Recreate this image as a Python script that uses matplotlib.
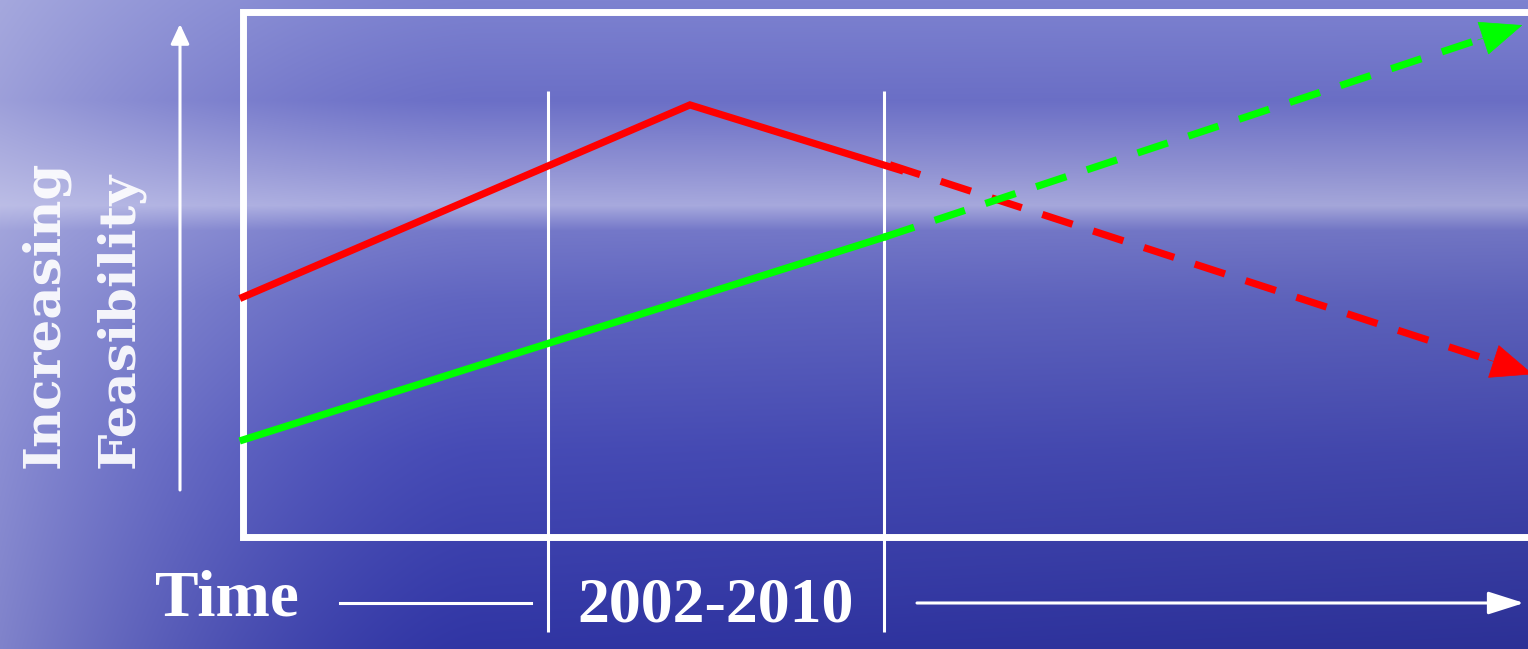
"""Feasibility over time: sketch chart on a sea-and-sky backdrop."""
import matplotlib
matplotlib.use("Agg")
import matplotlib.pyplot as plt
import numpy as np
from matplotlib.patches import FancyArrowPatch

W, H = 1528, 649

# data (time in years, feasibility in arbitrary units 0..100)
period = [2002, 2010]
period_label = "2002-2010"
red_years = [1994.74, 2005.38, 2010.38]
red_vals = [45.7, 82.3, 69.9]
red_proj_years = [2010.14, 2025.45]
red_proj_vals = [70.9, 31.0]
green_years = [1994.74, 2010.0]
green_vals = [18.5, 57.1]
green_proj_years = [2010.0, 2025.2]
green_proj_vals = [57.1, 97.5]

RED = "#ff0000"
GREEN = "#00ff00"


def px(x, y):
    """Figure fraction from pixel position (top-left origin)."""
    return x / W, 1 - y / H


def backdrop():
    yy = np.arange(H)
    stops_y = [0, 100, 170, 205, 230, 300, 450, 649]
    cols = np.array([
        [125, 130, 208], [108, 112, 200], [148, 150, 215], [170, 172, 225],
        [118, 122, 204], [98, 103, 196], [72, 77, 186], [50, 55, 170],
    ]) / 255.0
    col = np.stack([np.interp(yy, stops_y, cols[:, k]) for k in range(3)], axis=1)
    img = np.repeat(col[:, None, :], W, axis=1)
    xx = np.arange(W)
    light = np.clip(1 - xx / 480.0, 0, 1) ** 1.6 * 0.5
    lav = np.array([205, 206, 235]) / 255.0
    img = img * (1 - light[None, :, None]) + lav * light[None, :, None]
    dark = (xx / W)[None, :, None] * (yy / H)[:, None, None] * 0.12
    img = img * (1 - dark)
    return img


fig = plt.figure(figsize=(W / 100, H / 100), dpi=100)
bg = fig.add_axes([0, 0, 1, 1])
bg.imshow(backdrop(), aspect="auto", extent=(0, 1, 0, 1), zorder=0)
bg.set_axis_off()

ax = fig.add_axes([0, 0, 1, 1])
ax.set_axis_off()
ax.patch.set_alpha(0)
ax.set_xlim(2002 - 548 / 42, 2002 + (W - 548) / 42)
ax.set_ylim((537 - H) / 5.25, 537 / 5.25)

# frame of the plotting area (open on the right, runs off the figure)
x0 = red_years[0]
ax.plot([x0 + 40, x0, x0, x0 + 40], [100, 100, 0, 0], color="white", lw=5,
        zorder=2, solid_joinstyle="miter", clip_on=False)

# period markers
for yr in period:
    ax.plot([yr, yr], [-18, 85], color="white", lw=2.2, zorder=2,
            solid_capstyle="butt")

# trend lines
ax.plot(red_years, red_vals, color=RED, lw=5.2, zorder=4, solid_joinstyle="miter")
ax.plot(green_years, green_vals, color=GREEN, lw=5.2, zorder=4)

dash = (4.4, 3.0)
for xs, ys, c in [(red_proj_years, red_proj_vals, RED),
                  (green_proj_years, green_proj_vals, GREEN)]:
    tip = np.array([xs[1], ys[1]])
    start = np.array([xs[0], ys[0]])
    back = tip - (tip - start) * 0.07
    ax.plot([start[0], back[0]], [start[1], back[1]], color=c, lw=5.2,
            dashes=dash, zorder=4, solid_capstyle="butt")
    ax.annotate("", xy=tip, xytext=back,
                arrowprops=dict(arrowstyle="-|>,head_length=1.45,head_width=0.6",
                                mutation_scale=20, color=c, lw=0.5,
                                shrinkA=0, shrinkB=0),
                annotation_clip=False, zorder=5)

# axis arrows
fig.add_artist(FancyArrowPatch(
    px(180, 490), px(180, 24), transform=fig.transFigure,
    arrowstyle="-|>,head_length=0.6,head_width=0.28", mutation_scale=20,
    color="white", lw=2.2, shrinkA=0, shrinkB=0))
fig.add_artist(plt.Line2D(*zip(px(340, 603), px(531, 603)),
                          transform=fig.transFigure, color="white", lw=2.2))
fig.add_artist(FancyArrowPatch(
    px(917, 603), px(1524, 603), transform=fig.transFigure,
    arrowstyle="-|>,head_length=1.1,head_width=0.35", mutation_scale=20,
    color="white", lw=2.2, shrinkA=0, shrinkB=0))

# labels
serif = dict(color="white", fontweight="bold", family="Liberation Serif")
fig.text(*px(155, 615), "Time", fontsize=47, ha="left", va="baseline", **serif)
fig.text(*px(716, 622), period_label, fontsize=46, ha="center", va="baseline", **serif)
ylab = dict(color="white", fontweight="bold", family="DejaVu Serif",
            rotation=90, fontsize=37, ha="center", va="bottom", alpha=0.92)
fig.text(*px(45, 468), "Increasing", **ylab)
fig.text(*px(120, 468), "Feasibility", **ylab)

fig.savefig("out.png", dpi=100)
